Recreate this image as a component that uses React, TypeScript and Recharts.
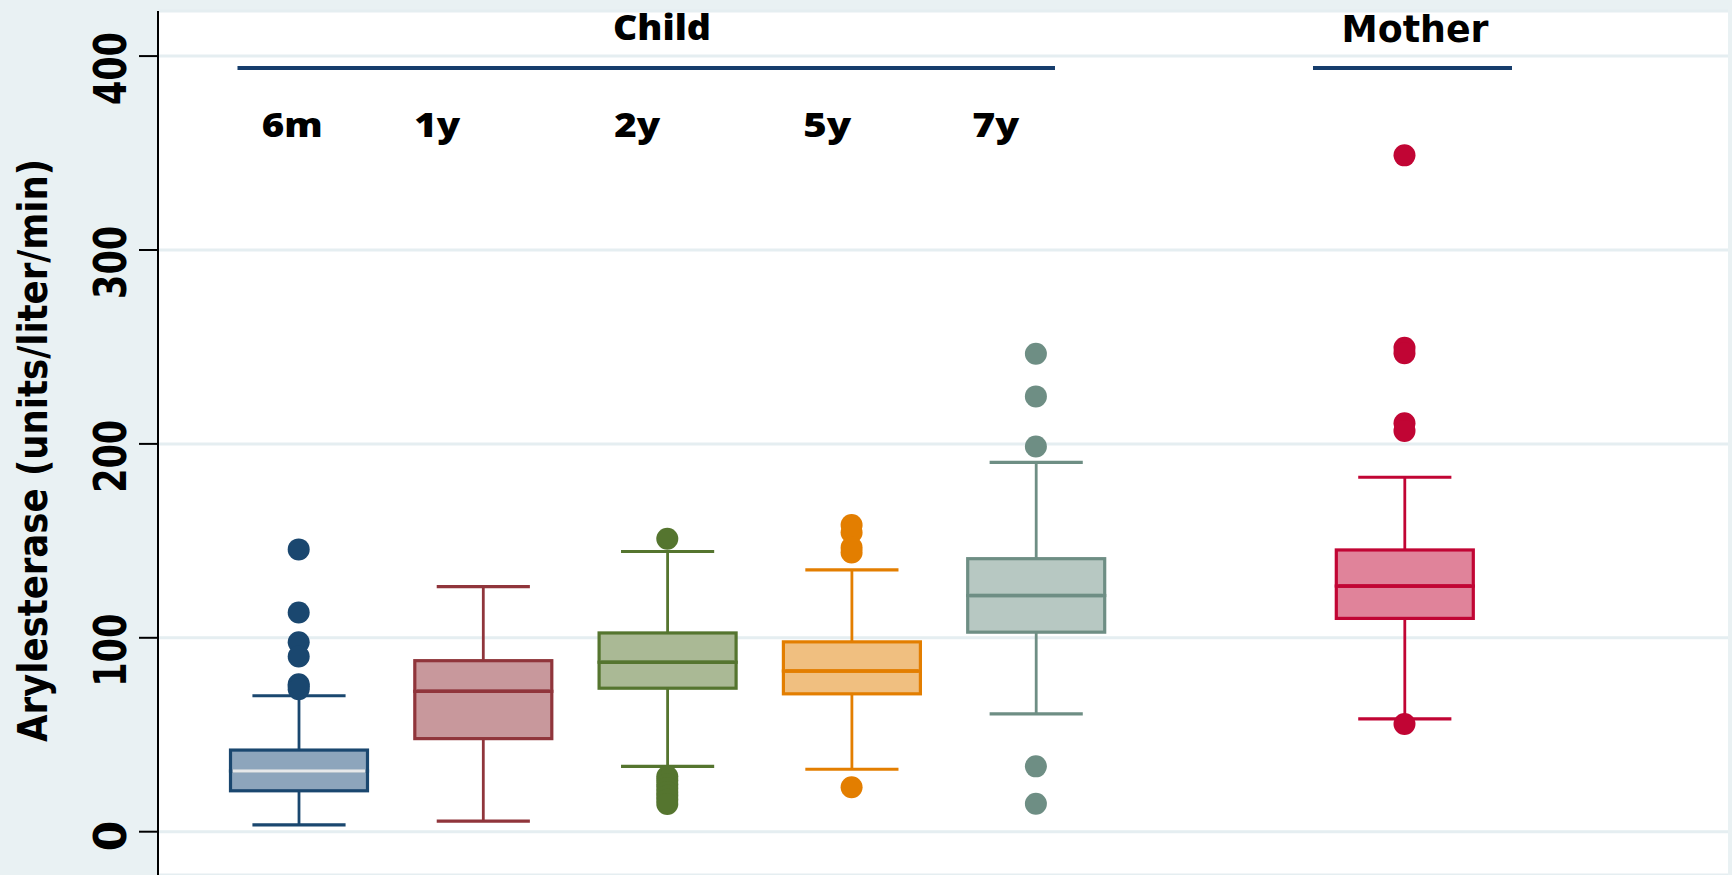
import React from 'react';
import {
  ComposedChart,
  Bar,
  Scatter,
  XAxis,
  YAxis,
  CartesianGrid,
  ReferenceLine,
  ReferenceDot,
} from 'recharts';

// ---------------- data ----------------
const categories = ['6m', '1y', '2y', '5y', '7y', 'gap', 'Mother'];
const whiskerLow: (number | null)[] = [3.5, 5.5, 33.7, 32.2, 60.8, null, 58.2];
const q1: (number | null)[] = [21.1, 48.0, 74.0, 71.1, 102.9, null, 110.0];
const median: (number | null)[] = [31.3, 72.4, 87.4, 82.9, 121.8, null, 126.7];
const q3: (number | null)[] = [42.1, 88.2, 102.5, 97.9, 140.8, null, 145.3];
const whiskerHigh: (number | null)[] = [70.1, 126.4, 144.5, 135.0, 190.5, null, 182.8];
const outliers: number[][] = [
  [145.6, 113.0, 97.7, 90.4, 76.0, 75.0, 73.5],
  [],
  [151.1, 28.5, 26.5, 24.5, 22.5, 20.5, 18.5, 16.5, 14.3],
  [158.2, 154.3, 146.5, 144.0, 22.9],
  [246.5, 224.5, 198.7, 33.7, 14.4],
  [],
  [348.8, 249.6, 246.8, 210.6, 206.7, 55.5],
];
const yTicks = [0, 100, 200, 300, 400];
const yTitle = 'Arylesterase (units/liter/min)';
const ageLabels = ['6m', '1y', '2y', '5y', '7y'];
const groupLabels = ['Child', 'Mother'];

// ---------------- styles / layout ----------------
const strokeColors = ['#1a476f', '#90353b', '#55752f', '#e37e00', '#6e8e84', '#000000', '#c10534'];
const fillColors = ['#8da5bc', '#c8989c', '#aab995', '#f0bf80', '#b7c8c2', '#ffffff', '#e0839a'];
const medianColors = ['#e6e8ea', '#90353b', '#55752f', '#e37e00', '#6e8e84', '#000000', '#c10534'];

const ageLabelX = [-0.0353, 0.7515, 1.8367, 2.8676, 3.7824];
const ageLabelWidth = [61, 46, 46, 48, 47];
const ageLabelY = 358.4;
const groupLabelX = [1.9712, 6.057];
const groupLabelY = [408.3, 407.4];
const groupLabelWidth = [98, 147];
const groupLineFrom = [-0.3321, 5.5035];
const groupLineTo = [4.1036, 6.5833];
const groupLineY = 393.8;

const table = categories.map((name, i) => {
  const lo = whiskerLow[i];
  if (lo == null) return { name };
  return {
    name,
    idx: i,
    base: lo,
    lw: (q1[i] as number) - lo,
    bl: (median[i] as number) - (q1[i] as number),
    bh: (q3[i] as number) - (median[i] as number),
    hw: (whiskerHigh[i] as number) - (q3[i] as number),
  };
});

const BOX_W = 137;
const CAP_RATIO = 0.68;

const LowWhisker = (p: any) => {
  const { x, y, width, height, payload } = p;
  if (!payload || payload.idx == null) return <g />;
  const c = strokeColors[payload.idx];
  const cx = x + width / 2;
  const cap = width * CAP_RATIO;
  return (
    <g>
      <line x1={cx} x2={cx} y1={y} y2={y + height} stroke={c} strokeWidth={2.8} />
      <line x1={cx - cap / 2} x2={cx + cap / 2} y1={y + height} y2={y + height} stroke={c} strokeWidth={3.2} />
    </g>
  );
};

const HighWhisker = (p: any) => {
  const { x, y, width, height, payload } = p;
  if (!payload || payload.idx == null) return <g />;
  const c = strokeColors[payload.idx];
  const cx = x + width / 2;
  const cap = width * CAP_RATIO;
  return (
    <g>
      <line x1={cx} x2={cx} y1={y} y2={y + height} stroke={c} strokeWidth={2.8} />
      <line x1={cx - cap / 2} x2={cx + cap / 2} y1={y} y2={y} stroke={c} strokeWidth={3.2} />
    </g>
  );
};

const BoxLow = (p: any) => {
  const { x, y, width, height, payload } = p;
  if (!payload || payload.idx == null) return <g />;
  return (
    <rect x={x} y={y} width={width} height={height} fill={fillColors[payload.idx]} stroke={strokeColors[payload.idx]} strokeWidth={3.2} />
  );
};

const BoxHigh = (p: any) => {
  const { x, y, width, height, payload } = p;
  if (!payload || payload.idx == null) return <g />;
  return (
    <g>
      <rect x={x} y={y} width={width} height={height} fill={fillColors[payload.idx]} stroke={strokeColors[payload.idx]} strokeWidth={3.2} />
      <line x1={x + 2} x2={x + width - 2} y1={y + height} y2={y + height} stroke={medianColors[payload.idx]} strokeWidth={3.6} />
    </g>
  );
};

const YTick = (p: any) => {
  const { y, payload } = p;
  const s = String(payload.value);
  const len = s.length;
  const extra: any = len > 1 ? { textLength: len * 24.3, lengthAdjust: 'spacingAndGlyphs' } : {};
  return (
    <text
      transform={`translate(126, ${y + 4.15 * len}) rotate(-90)`}
      textAnchor="middle"
      fontFamily="DejaVu Sans"
      fontWeight="bold"
      fontSize={44}
      fill="#000"
      {...extra}
    >
      {s}
    </text>
  );
};

const AxisTitle = (p: any) => {
  const vb = p.viewBox || { x: 0, y: 11, width: 158, height: 864 };
  const cy = vb.y + vb.height / 2 + 7.5;
  return (
    <text
      transform={`translate(${vb.x + 47}, ${cy}) rotate(-90)`}
      textAnchor="middle"
      fontFamily="DejaVu Sans"
      fontWeight="bold"
      fontSize={41}
      fill="#000"
      textLength={583}
      lengthAdjust="spacingAndGlyphs"
    >
      {yTitle}
    </text>
  );
};

export default function App() {
  return (
    <div style={{ position: 'absolute', left: 0, top: 0, width: 1732, height: 875, background: '#e9f1f3' }}>
      <ComposedChart
        width={1732}
        height={875}
        data={table}
        margin={{ top: 11, right: 4, bottom: 0, left: 0 }}
        barGap={0}
        barCategoryGap={0}
      >
        <CartesianGrid vertical={false} stroke="#e5eef1" strokeWidth={3} fill="#ffffff" fillOpacity={1} />
        <XAxis dataKey="name" type="category" hide padding={{ left: 48.5, right: 231.4 }} />
        <XAxis xAxisId="num" dataKey="x" type="number" hide domain={[-0.7634, 7.7553]} allowDataOverflow />
        <YAxis
          width={158}
          domain={[-22.33, 423.25]}
          ticks={yTicks}
          interval={0}
          allowDataOverflow
          axisLine={{ stroke: '#000', strokeWidth: 2 }}
          tickLine={{ stroke: '#000', strokeWidth: 2 }}
          tickSize={19}
          tick={<YTick />}
          label={<AxisTitle />}
        />
        <Bar dataKey="base" stackId="b" barSize={BOX_W} fill="none" shape={() => <g />} isAnimationActive={false} />
        <Bar dataKey="lw" stackId="b" barSize={BOX_W} shape={<LowWhisker />} isAnimationActive={false} />
        <Bar dataKey="bl" stackId="b" barSize={BOX_W} shape={<BoxLow />} isAnimationActive={false} />
        <Bar dataKey="bh" stackId="b" barSize={BOX_W} shape={<BoxHigh />} isAnimationActive={false} />
        <Bar dataKey="hw" stackId="b" barSize={BOX_W} shape={<HighWhisker />} isAnimationActive={false} />
        {categories.map((c, i) =>
          outliers[i].length ? (
            <Scatter
              key={'o' + c}
              xAxisId="num"
              data={outliers[i].map((v) => ({ x: i, y: v }))}
              dataKey="y"
              fill={strokeColors[i]}
              isAnimationActive={false}
              shape={(p: any) => <circle cx={p.cx} cy={p.cy} r={11} fill={strokeColors[i]} />}
            />
          ) : null
        )}
        {groupLabels.map((g, i) => (
          <ReferenceLine
            key={'gl' + g}
            xAxisId="num"
            segment={[
              { x: groupLineFrom[i], y: groupLineY },
              { x: groupLineTo[i], y: groupLineY },
            ]}
            stroke="#163d6c"
            strokeWidth={4}
            ifOverflow="visible"
          />
        ))}
        {groupLabels.map((g, i) => (
          <ReferenceDot
            key={'gt' + g}
            xAxisId="num"
            x={groupLabelX[i]}
            y={groupLabelY[i]}
            r={0}
            ifOverflow="visible"
            shape={(p: any) => (
              <text
                x={p.cx}
                y={p.cy}
                textAnchor="middle"
                fontFamily={i === 0 ? 'Open Sans' : 'DejaVu Sans'}
                fontWeight={i === 0 ? 800 : 700}
                fontSize={i === 0 ? 35 : 38}
                fill="#000"
                textLength={groupLabelWidth[i]}
                lengthAdjust="spacingAndGlyphs"
              >
                {g}
              </text>
            )}
          />
        ))}
        {ageLabels.map((a, i) => (
          <ReferenceDot
            key={'al' + a}
            xAxisId="num"
            x={ageLabelX[i]}
            y={ageLabelY}
            r={0}
            ifOverflow="visible"
            shape={(p: any) => (
              <text
                x={p.cx}
                y={p.cy}
                textAnchor="middle"
                fontFamily="Open Sans"
                fontWeight={800}
                fontSize={33.5}
                fill="#000"
                textLength={ageLabelWidth[i]}
                lengthAdjust="spacingAndGlyphs"
              >
                {a}
              </text>
            )}
          />
        ))}
      </ComposedChart>
    </div>
  );
}
